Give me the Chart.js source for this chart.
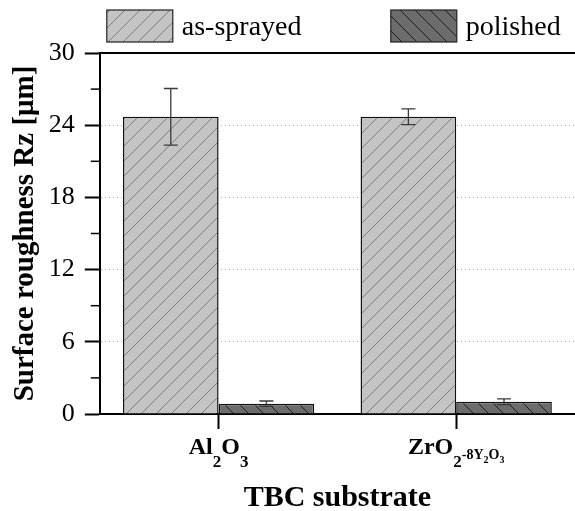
<!DOCTYPE html>
<html>
<head>
<meta charset="utf-8">
<script src="https://cdn.jsdelivr.net/npm/chart.js@4.4.1/dist/chart.umd.min.js"></script>
<style>
  html,body{margin:0;padding:0;background:#fff;}
  #wrap{width:575px;height:511px;}
</style>
</head>
<body>
<div id="wrap"><canvas id="c" width="575" height="511"></canvas></div>
<script>
// 数据
const categories = ["Al2O3", "ZrO2-8Y2O3"];
const seriesNames = ["as-sprayed", "polished"];
const asSprayed = [24.7, 24.7];
const asSprayedErr = [2.35, 0.65];
const polished = [0.86, 1.02];
const polishedErr = [0.22, 0.24];
const yTicks = [0, 6, 12, 18, 24, 30];

// 带下标的类别标签：[文字, 级别] 0=正文 1=下标 2=小字下标 3=小字
const labelParts = [
  [["Al",0],["2",1],["O",0],["3",1]],
  [["ZrO",0],["2",1],["-8Y",3],["2",2],["O",3],["3",2]]
];

const FONT = '"Liberation Serif","Times New Roman",serif';

function hatch(bg, line, dir){
  const s = 15, c = document.createElement("canvas");
  c.width = s; c.height = s;
  const g = c.getContext("2d");
  g.fillStyle = bg; g.fillRect(0,0,s,s);
  g.strokeStyle = line; g.lineWidth = 1;
  g.beginPath();
  if(dir > 0){
    g.moveTo(0,s); g.lineTo(s,0);
    g.moveTo(-1,1); g.lineTo(1,-1);
    g.moveTo(s-1,s+1); g.lineTo(s+1,s-1);
  }else{
    g.moveTo(0,0); g.lineTo(s,s);
    g.moveTo(-1,s-1); g.lineTo(1,s+1);
    g.moveTo(s-1,-1); g.lineTo(s+1,1);
  }
  g.stroke();
  return g.createPattern(c, "repeat");
}

const pat1 = hatch("#c4c4c4", "#7c7c7c", 1);
const pat2 = hatch("#6c6c6c", "#1c1c1c", -1);

// 误差棒
const errorBars = {
  id: "errorBars",
  afterDatasetsDraw(chart){
    const {ctx} = chart, y = chart.scales.y;
    const errs = [asSprayedErr, polishedErr];
    ctx.save();
    ctx.strokeStyle = "#3a3a3a"; ctx.lineWidth = 1.3;
    chart.data.datasets.forEach((ds, di)=>{
      chart.getDatasetMeta(di).data.forEach((bar, i)=>{
        const v = ds.data[i], e = errs[di][i];
        const x = bar.x, t = y.getPixelForValue(v+e), b = y.getPixelForValue(v-e);
        ctx.beginPath();
        ctx.moveTo(x, t); ctx.lineTo(x, b);
        ctx.moveTo(x-7, t); ctx.lineTo(x+7, t);
        ctx.moveTo(x-7, b); ctx.lineTo(x+7, b);
        ctx.stroke();
      });
    });
    ctx.restore();
  }
};

// 顶框、次刻度、图例、类别标签
const decor = {
  id: "decor",
  afterDraw(chart){
    const {ctx, chartArea:a} = chart, y = chart.scales.y, x = chart.scales.x;
    ctx.save();
    ctx.strokeStyle = "#000"; ctx.lineWidth = 2;
    ctx.beginPath(); ctx.moveTo(a.left-1, a.top); ctx.lineTo(a.right, a.top); ctx.stroke();
    // 次刻度
    ctx.lineWidth = 1.5;
    y.ticks.forEach(t=>{
      if(t.value % 6 !== 0){
        const py = y.getPixelForValue(t.value);
        ctx.beginPath(); ctx.moveTo(a.left-9, py); ctx.lineTo(a.left, py); ctx.stroke();
      }
    });
    // 图例
    const lx = [a.left+7, a.left+291];
    chart.data.datasets.forEach((ds, i)=>{
      ctx.fillStyle = ds.backgroundColor;
      ctx.fillRect(lx[i], 10, 66, 32);
      ctx.strokeStyle = "#222"; ctx.lineWidth = 1.2;
      ctx.strokeRect(lx[i], 10, 66, 32);
      ctx.fillStyle = "#000";
      ctx.font = "28px " + FONT;
      ctx.textBaseline = "alphabetic"; ctx.textAlign = "left";
      ctx.fillText(ds.label, lx[i]+75, 35);
    });
    // 类别标签（下标）
    const sizes = [24, 17, 10, 14], drops = [0, 13, 9, 5];
    labelParts.forEach((parts, i)=>{
      let w = 0;
      parts.forEach(p=>{ ctx.font = "bold "+sizes[p[1]]+"px "+FONT; w += ctx.measureText(p[0]).width; });
      let cx = x.getPixelForTick(i) - w/2;
      const base = a.bottom + 40;
      parts.forEach(p=>{
        ctx.font = "bold "+sizes[p[1]]+"px "+FONT;
        ctx.fillText(p[0], cx, base + drops[p[1]]);
        cx += ctx.measureText(p[0]).width;
      });
    });
    ctx.restore();
  }
};

new Chart(document.getElementById("c"), {
  type: "bar",
  data: {
    labels: categories,
    datasets: [
      {label: seriesNames[0], data: asSprayed, backgroundColor: pat1, borderColor: "#111", borderWidth: 1.5},
      {label: seriesNames[1], data: polished, backgroundColor: pat2, borderColor: "#111", borderWidth: 1.5}
    ]
  },
  options: {
    responsive: false,
    animation: false,
    events: [],
    layout: {padding: {top: 53, left: 8, right: 0, bottom: 0}},
    datasets: {bar: {categoryPercentage: 0.805, barPercentage: 1.0}},
    plugins: {legend: {display: false}, tooltip: {enabled: false}},
    scales: {
      x: {
        grid: {display: true, drawOnChartArea: false, offset: false, tickLength: 15, tickColor: "#000", tickWidth: 2},
        border: {display: true, color: "#000", width: 2},
        ticks: {display: false},
        title: {display: true, text: "TBC substrate", color: "#000",
          font: {family: FONT, size: 30, weight: "bold"}, padding: {top: 51, bottom: -5}}
      },
      y: {
        min: yTicks[0], max: yTicks[yTicks.length-1],
        grid: {
          color: c => (c.tick && c.tick.value % 6 === 0 && c.tick.value > 0 && c.tick.value < 30) ? "#b4b4b4" : "transparent",
          tickColor: c => (c.tick && c.tick.value % 6 === 0) ? "#000" : "transparent",
          tickLength: 15, tickWidth: 2, lineWidth: 1
        },
        border: {display: true, color: "#000", width: 2, dash: [1, 3]},
        ticks: {stepSize: 3, color: "#000", padding: 10,
          font: {family: FONT, size: 26},
          callback: v => yTicks.includes(v) ? v : ""},
        title: {display: true, text: "Surface roughness Rz [μm]", color: "#000",
          font: {family: FONT, size: 29, weight: "bold"}, padding: {top: 0, bottom: -4}}
      }
    }
  },
  plugins: [errorBars, decor]
});
</script>
</body>
</html>
